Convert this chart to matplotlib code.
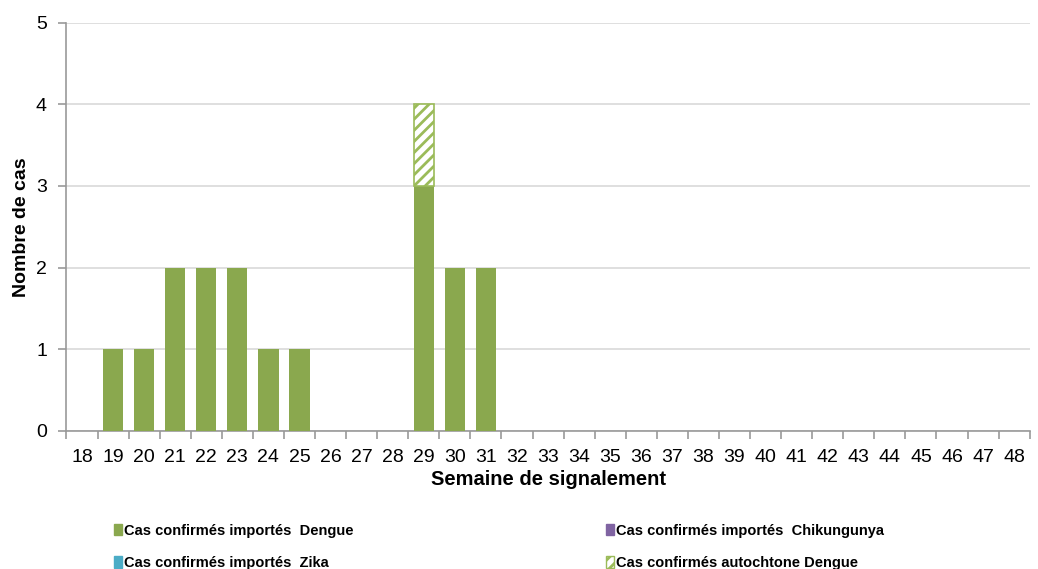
import numpy as np
from matplotlib import pyplot as plt
from matplotlib.patches import Patch

c_dengue = "#8aa84e"
c_chik = "#8064a2"
c_zika = "#4bacc6"
c_auto = "#9bbb59"

semaines = list(range(18, 49))
dengue_imp = [0, 1, 1, 2, 2, 2, 1, 1, 0, 0, 0, 3, 2, 2] + [0] * 17
chik_imp = [0] * 31
zika_imp = [0] * 31
dengue_auto = [0] * 11 + [1] + [0] * 19

plt.rcParams["font.family"] = ["Liberation Sans", "DejaVu Sans"]
plt.rcParams["hatch.linewidth"] = 2.0

fig, ax = plt.subplots(figsize=(10.38, 5.69), dpi=100)
fig.subplots_adjust(left=0.064, right=0.992, top=0.96, bottom=0.243)

x = np.arange(len(semaines))
w = 0.65
d = np.array(dengue_imp)
ch = np.array(chik_imp)
zk = np.array(zika_imp)
au = np.array(dengue_auto)
ax.bar(x, d, width=w, color=c_dengue, zorder=3)
ax.bar(x, ch, width=w, bottom=d, color=c_chik, zorder=3)
ax.bar(x, zk, width=w, bottom=d + ch, color=c_zika, zorder=3)
m = au > 0
ax.bar(x[m], au[m], width=w, bottom=(d + ch + zk)[m], color="white", edgecolor=c_auto,
       hatch="///", linewidth=1.2, zorder=3)

ax.set_xlim(-0.5, len(semaines) - 0.5)
ax.set_ylim(0, 5)
ax.set_yticks(range(0, 6))
ax.tick_params(axis="y", labelsize=14, length=6, color="#999999", width=1.2, pad=8)
ax.set_xticks(np.arange(-0.5, len(semaines) + 0.5, 1))
ax.set_xticklabels([])
ax.set_xticks(x, minor=True)
ax.set_xticklabels([str(s) for s in semaines], minor=True)
ax.tick_params(axis="x", which="major", length=6, color="#999999", width=1.2)
ax.tick_params(axis="x", which="minor", length=0, labelsize=14, pad=13)
ax.grid(axis="y", color="#d9d9d9", linewidth=1.2, zorder=0)
for s in ["top", "right"]:
    ax.spines[s].set_visible(False)
for s in ["left", "bottom"]:
    ax.spines[s].set_color("#999999")
    ax.spines[s].set_linewidth(1.2)

ax.set_ylabel("Nombre de cas", fontsize=14, fontweight="bold", labelpad=4)
ax.set_xlabel("Semaine de signalement", fontsize=14.5, fontweight="bold", labelpad=3)

handles = [
    Patch(facecolor=c_dengue, edgecolor=c_dengue),
    Patch(facecolor=c_zika, edgecolor=c_zika),
    Patch(facecolor=c_chik, edgecolor=c_chik),
    Patch(facecolor="white", edgecolor=c_auto, hatch="///"),
]
labels = [
    "Cas confirmés importés  Dengue",
    "Cas confirmés importés  Zika",
    "Cas confirmés importés  Chikungunya",
    "Cas confirmés autochtone Dengue",
]
fig.legend(handles, labels, ncol=2, loc="lower left", bbox_to_anchor=(0.097, -0.025),
           frameon=False, handlelength=0.55, handleheight=0.8, handletextpad=0.15,
           columnspacing=17.3, labelspacing=1.25,
           prop={"size": 10.5, "weight": "bold"})

plt.savefig("out.png", dpi=100)
